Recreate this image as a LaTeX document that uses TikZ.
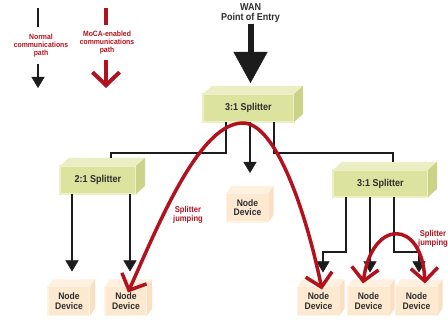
\documentclass[tikz,border=0pt]{standalone}
\usepackage{fontspec}
\newfontfamily\labelfont{Liberation Sans}[FakeStretch=0.9]
\usetikzlibrary{arrows.meta,positioning}

\definecolor{splitfront}{RGB}{220,227,158}
\definecolor{splitrim}{RGB}{236,240,196}
\definecolor{splittop}{RGB}{234,238,194}
\definecolor{splitside}{RGB}{203,211,136}
\definecolor{devfront}{RGB}{253,232,208}
\definecolor{devrim}{RGB}{255,243,229}
\definecolor{devtop}{RGB}{255,240,224}
\definecolor{devside}{RGB}{250,223,194}
\definecolor{mocared}{RGB}{178,18,30}
\definecolor{wiregray}{RGB}{28,28,28}
\definecolor{textgray}{RGB}{45,45,45}

% top and right faces of a box node: node, dx, dy, top colour, side colour
\newcommand\boxsides[5]{%
	\fill[#4] (#1.north west) -- ++(#2,#3) -- ([shift={(#2,#3)}]#1.north east) -- (#1.north east) -- cycle;
	\fill[#5] (#1.north east) -- ++(#2,#3) -- ([shift={(#2,#3)}]#1.south east) -- (#1.south east) -- cycle;
}

\begin{document}
\begin{tikzpicture}[
		x=1pt, y=-1pt
		,wire/.style={draw=wiregray, line width=1.8pt}
		,warr/.style={wire, -{Triangle[length=11pt,width=13pt,line width=0.5pt]}}
		,moca/.style={draw=mocared, line width=3.5pt}
		,mocaarr/.style={moca, -{Straight Barb[length=13pt,width=27pt]}}
		,mocaboth/.style={moca, {Straight Barb[length=13pt,width=27pt]}-{Straight Barb[length=13pt,width=27pt]}}
		,splitter/.style={draw=splitrim, line width=2pt, fill=splitfront, inner sep=0pt, outer sep=0pt, text=textgray, font=\labelfont\bfseries\fontsize{10}{11}\selectfont}
		,device/.style={draw=devrim, line width=1.5pt, fill=devfront, minimum width=42pt, minimum height=29pt, inner sep=0pt, outer sep=0pt, align=center, text=textgray, font=\labelfont\bfseries\fontsize{9.5}{9.5}\selectfont}
		,legend/.style={align=center, inner sep=0pt, text=mocared, font=\labelfont\bfseries\fontsize{7.6}{8}\selectfont}
		,jumplabel/.style={align=center, inner sep=0pt, text=mocared, font=\labelfont\bfseries\fontsize{8.5}{9}\selectfont}
	]
	\useasboundingbox (0,0) rectangle (448,323);
	\fill[white] (0,0) rectangle (448,323);

	% splitters
	\node [splitter, minimum width=91pt, minimum height=28pt] (top) at (248.5,108) {3:1 Splitter};
	\boxsides{top}{9}{-8}{splittop}{splitside}
	\node [splitter, minimum width=76pt, minimum height=28pt] (left) at (98,180) {2:1 Splitter};
	\boxsides{left}{9}{-8}{splittop}{splitside}
	\node [splitter, minimum width=95pt, minimum height=27pt] (right) at (380.5,183.5) {3:1 Splitter};
	\boxsides{right}{9}{-8}{splittop}{splitside}

	% node devices
	\node [device] (mid) at (247.5,207.5) {Node\\Device};
	\node [device] (dev1) at (69,301) {Node\\Device};
	\node [device] (dev2) at (126,301) {Node\\Device};
	\node [device] (dev3) at (318.5,301) {Node\\Device};
	\node [device] (dev4) at (368.5,301) {Node\\Device};
	\node [device] (dev5) at (416.5,301) {Node\\Device};
	\foreach \d in {mid,dev1,dev2,dev3,dev4,dev5}
		{\boxsides{\d}{5}{-7}{devtop}{devside}}

	% WAN entry
	\node [font=\labelfont\bfseries\fontsize{10}{10}\selectfont, text=textgray, align=center, inner sep=1pt] (wan) at (250.5,13) {WAN\\Point of Entry};
	\draw [draw=wiregray, line width=6pt, -{Triangle[length=31pt,width=34pt,line width=0.5pt]}] (wan) -- ([xshift=2pt,yshift=11pt]top.north);

	% wiring
	\draw [wire] ([xshift=-22.5pt]top.south) -- ++(0,31) -| ([xshift=13pt,yshift=8pt]left.north);
	\draw [wire] ([xshift=25.5pt]top.south) -- ++(0,31) -| ([xshift=12.5pt,yshift=8pt]right.north);
	\draw [warr] ([xshift=1.5pt]top.south) -- ([xshift=2.5pt,yshift=20pt]mid.north);
	\draw [warr] ([xshift=-26pt]left.south) -- ([xshift=3pt,yshift=15pt]dev1.north);
	\draw [warr] ([xshift=32pt]left.south) -- ([xshift=4pt,yshift=15pt]dev2.north);
	\draw [warr] ([xshift=-34.5pt]right.south) -- ++(0,55) -| ([xshift=4.5pt,yshift=14pt]dev3.north);
	\draw [warr] ([xshift=-10.5pt]right.south) -- ([xshift=1.5pt,yshift=14pt]dev4.north);
	\draw [warr] ([xshift=13.5pt]right.south) -- ++(0,55) -| ([xshift=2.5pt,yshift=14pt]dev5.north);

	% splitter jumping
	\coordinate (jump) at ([xshift=-5.5pt,yshift=-1pt]top.south);
	\draw [mocaboth] ([xshift=2pt,yshift=-6pt]dev2.north) .. controls +(32,-72) and +(-43,0) .. (jump) .. controls +(32,0) and +(-17,-82) .. ([xshift=3.5pt,yshift=-3pt]dev3.north);
	\draw [mocaboth] ([xshift=-5.5pt,yshift=3pt]dev4.north) .. controls +(9,-65) and +(-3,-65) .. ([xshift=8.5pt,yshift=3pt]dev5.north);
	\node [jumplabel] (jumpl) at (188,214.5) {Splitter\\jumping};
	\node [jumplabel] (jumpr) at (433,239) {Splitter\\jumping};

	% legend
	\coordinate (normaltop) at (38,8);
	\coordinate (normalend) at (38,88);
	\node [legend, minimum height=36pt] (normal) at (41,45.5) {Normal\\communications\\path};
	\draw [wire] (normaltop) -- (normaltop |- normal.north);
	\draw [warr] (normaltop |- normal.south) -- (normalend);
	\coordinate (mocatop) at (106,8);
	\coordinate (mocaend) at (106,88);
	\node [legend, minimum height=34pt] (mocaleg) at (107,42.5) {MoCA-enabled\\communications\\path};
	\draw [moca, line width=4.5pt] (mocatop) -- (mocatop |- mocaleg.north);
	\draw [mocaarr, line width=4pt] (mocatop |- mocaleg.south) -- (mocaend);
\end{tikzpicture}
\end{document}
